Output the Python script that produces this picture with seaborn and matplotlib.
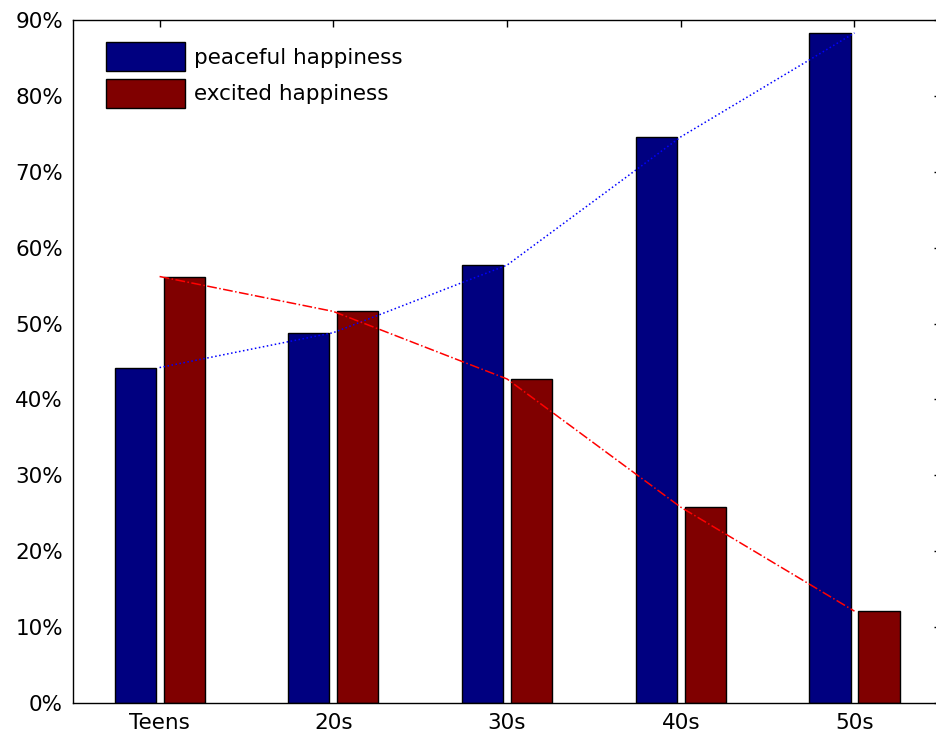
import pandas as pd
import matplotlib
matplotlib.use("Agg")
import matplotlib.pyplot as plt
import seaborn as sns
from matplotlib.ticker import PercentFormatter

age_groups = ["Teens", "20s", "30s", "40s", "50s"]
peaceful = [44.2, 48.8, 57.7, 74.6, 88.3]
excited = [56.2, 51.6, 42.7, 25.8, 12.1]
series_names = ["peaceful happiness", "excited happiness"]
y_ticks = [0, 10, 20, 30, 40, 50, 60, 70, 80, 90]

sns.set_style("white")
plt.rcParams["font.family"] = ["DejaVu Sans"]
plt.rcParams["font.size"] = 15.5
plt.rcParams["text.color"] = "black"

df = pd.DataFrame({
    "age": age_groups * 2,
    "share": peaceful + excited,
    "kind": [series_names[0]] * len(age_groups) + [series_names[1]] * len(age_groups),
})

fig = plt.figure(figsize=(9.36, 7.42), dpi=100)
ax = fig.add_axes([0.0777, 0.0526, 0.928, 0.9204])

sns.barplot(data=df, x="age", y="share", hue="kind",
            palette=["#000080", "#800000"], width=0.564, gap=0.16,
            edgecolor="black", linewidth=1.0, saturation=1, ax=ax)

# trend lines through group centres
sns.lineplot(x=list(range(len(age_groups))), y=peaceful, color="blue",
             linestyle=":", linewidth=1.1, ax=ax, legend=False)
sns.lineplot(x=list(range(len(age_groups))), y=excited, color="red",
             linestyle="-.", linewidth=1.1, ax=ax, legend=False)

ax.set_xlim(-0.5, 4.5)
ax.set_ylim(0, 90)
ax.set_yticks(y_ticks)
ax.yaxis.set_major_formatter(PercentFormatter(decimals=0))
ax.set_xlabel("")
ax.set_ylabel("")
ax.tick_params(direction="in", top=True, right=True, length=5, pad=7,
               width=1, colors="black", labelsize=15.5)
for s in ax.spines.values():
    s.set_color("black")
    s.set_linewidth(1.0)

leg = ax.legend(loc="upper left", bbox_to_anchor=(0.028, 0.98), frameon=False,
                handlelength=3.7, handleheight=1.7, labelspacing=0.35,
                handletextpad=0.4, fontsize=15.5, borderaxespad=0)
for t in leg.get_texts():
    t.set_color("black")

fig.savefig("out.png", dpi=100)
